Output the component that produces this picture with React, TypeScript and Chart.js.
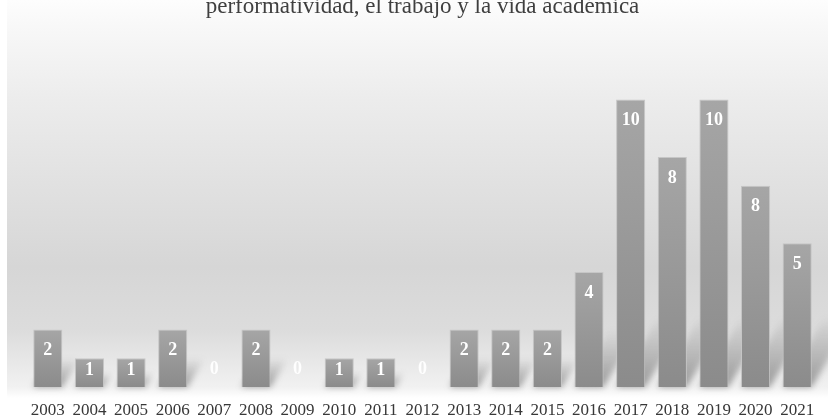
import React, { useEffect, useRef } from "react";
import { Chart, registerables } from "chart.js";

Chart.register(...registerables);

const years = ["2003","2004","2005","2006","2007","2008","2009","2010","2011","2012","2013","2014","2015","2016","2017","2018","2019","2020","2021"];
const barHeights = [2,1,1,2,0,2,0,1,1,0,2,2,2,4,10,8,10,7,5];
const valueLabels = ["2","1","1","2","0","2","0","1","1","0","2","2","2","4","10","8","10","8","5"];
const titleText = "performatividad, el trabajo y la vida académica";

const SERIF = "'Liberation Serif', 'Times New Roman', serif";

const bgPlugin = {
  id: "bgPlugin",
  beforeDraw(chart: any) {
    const { ctx, width, height } = chart;
    ctx.save();
    ctx.fillStyle = "#ffffff";
    ctx.fillRect(0, 0, width, height);
    const H = 398;
    const g = ctx.createLinearGradient(0, 0, 0, H);
    g.addColorStop(0, "#fdfdfd");
    g.addColorStop(32 / H, "#f7f7f7");
    g.addColorStop(100 / H, "#ececec");
    g.addColorStop(267 / H, "#d6d6d6");
    g.addColorStop(330 / H, "#dcdcdc");
    g.addColorStop(387 / H, "#f1f1f1");
    g.addColorStop(1, "#ffffff");
    ctx.fillStyle = g;
    ctx.fillRect(7, 0, width - 7, H);
    ctx.restore();
  },
};

const titlePlugin = {
  id: "titleLine",
  afterDraw(chart: any) {
    const { ctx, chartArea } = chart;
    ctx.save();
    ctx.font = `23px ${SERIF}`;
    ctx.fillStyle = "#3f3f3f";
    ctx.textAlign = "center";
    ctx.textBaseline = "alphabetic";
    ctx.fillText(titleText, (chartArea.left + chartArea.right) / 2, 13);
    ctx.restore();
  },
};

const labelPlugin = {
  id: "labelPlugin",
  afterDatasetsDraw(chart: any) {
    const { ctx } = chart;
    const meta = chart.getDatasetMeta(0);
    ctx.save();
    ctx.font = `bold 18px ${SERIF}`;
    ctx.textAlign = "center";
    ctx.textBaseline = "middle";
    meta.data.forEach((bar: any, i: number) => {
      const top = bar.y;
      const base = bar.base;
      let y: number;
      if (base - top < 1) {
        y = base - 19;
        ctx.fillStyle = "rgba(255,255,255,0.92)";
      } else {
        y = Math.min(top + 20, (top + base) / 2 - 3);
        ctx.fillStyle = "#ffffff";
      }
      ctx.fillText(valueLabels[i], bar.x, y + 1);
    });
    ctx.restore();
  },
};

const shadowPlugin = {
  id: "shadowPlugin",
  beforeDatasetsDraw(chart: any) {
    const { ctx } = chart;
    const meta = chart.getDatasetMeta(0);
    ctx.save();
    ctx.filter = "blur(3px)";
    meta.data.forEach((bar: any) => {
      const h = bar.base - bar.y;
      if (!isFinite(h) || h < 1) return;
      const w = bar.width;
      const left = bar.x - w / 2;
      const right = bar.x + w / 2;
      const dy = Math.min(h * 0.5, 70);
      const dx = dy * 0.6;
      const g = ctx.createLinearGradient(0, bar.base, 0, bar.base - dy);
      g.addColorStop(0, "rgba(80,80,80,0.55)");
      g.addColorStop(1, "rgba(80,80,80,0)");
      ctx.fillStyle = g;
      ctx.beginPath();
      ctx.moveTo(left, bar.base);
      ctx.lineTo(right, bar.base);
      ctx.lineTo(right + dx, bar.base - dy);
      ctx.lineTo(left + dx, bar.base - dy);
      ctx.closePath();
      ctx.fill();
    });
    ctx.restore();
  },
};

export default function App() {
  const ref = useRef<HTMLCanvasElement>(null);
  useEffect(() => {
    const canvas = ref.current!;
    const ctx = canvas.getContext("2d")!;
    const chart = new Chart(ctx, {
      type: "bar",
      data: {
        labels: years,
        datasets: [
          {
            data: barHeights,
            backgroundColor: (c: any) => {
              const ch = c.chart;
              const ys = ch.scales && ch.scales.y;
              if (!ch.chartArea || !ys || c.raw == null) return "#999999";
              const top = ys.getPixelForValue(c.raw);
              const base = ys.getPixelForValue(0);
              if (!isFinite(top) || !isFinite(base) || base - top < 1) return "#999999";
              const g = ch.ctx.createLinearGradient(0, top, 0, base);
              g.addColorStop(0, "#a6a6a6");
              g.addColorStop(1, "#8b8b8b");
              return g;
            },
            borderColor: "#c6c6c6",
            borderWidth: 1,
            barPercentage: 0.7,
            categoryPercentage: 1,
          },
        ],
      },
      options: {
        responsive: false,
        animation: false,
        layout: { padding: { left: 27, right: 10, top: 42, bottom: 0 } },
        plugins: {
          legend: { display: false },
          tooltip: { enabled: false },
          title: { display: false },
        },
        scales: {
          x: {
            grid: { display: false },
            border: { display: false },
            ticks: {
              color: "#383838",
              font: { family: SERIF, size: 17 },
              padding: 5,
              maxRotation: 0,
              autoSkip: false,
            },
            afterFit: (s: any) => { s.height = 31; },
          },
          y: {
            display: false,
            min: 0,
            max: 12,
          },
        },
      },
      plugins: [bgPlugin, shadowPlugin, labelPlugin, titlePlugin],
    });
    return () => chart.destroy();
  }, []);
  return (
    <div style={{ position: "fixed", left: 0, top: 0, width: 828, height: 418 }}>
      <canvas ref={ref} width={828} height={418} style={{ display: "block" }} />
    </div>
  );
}
